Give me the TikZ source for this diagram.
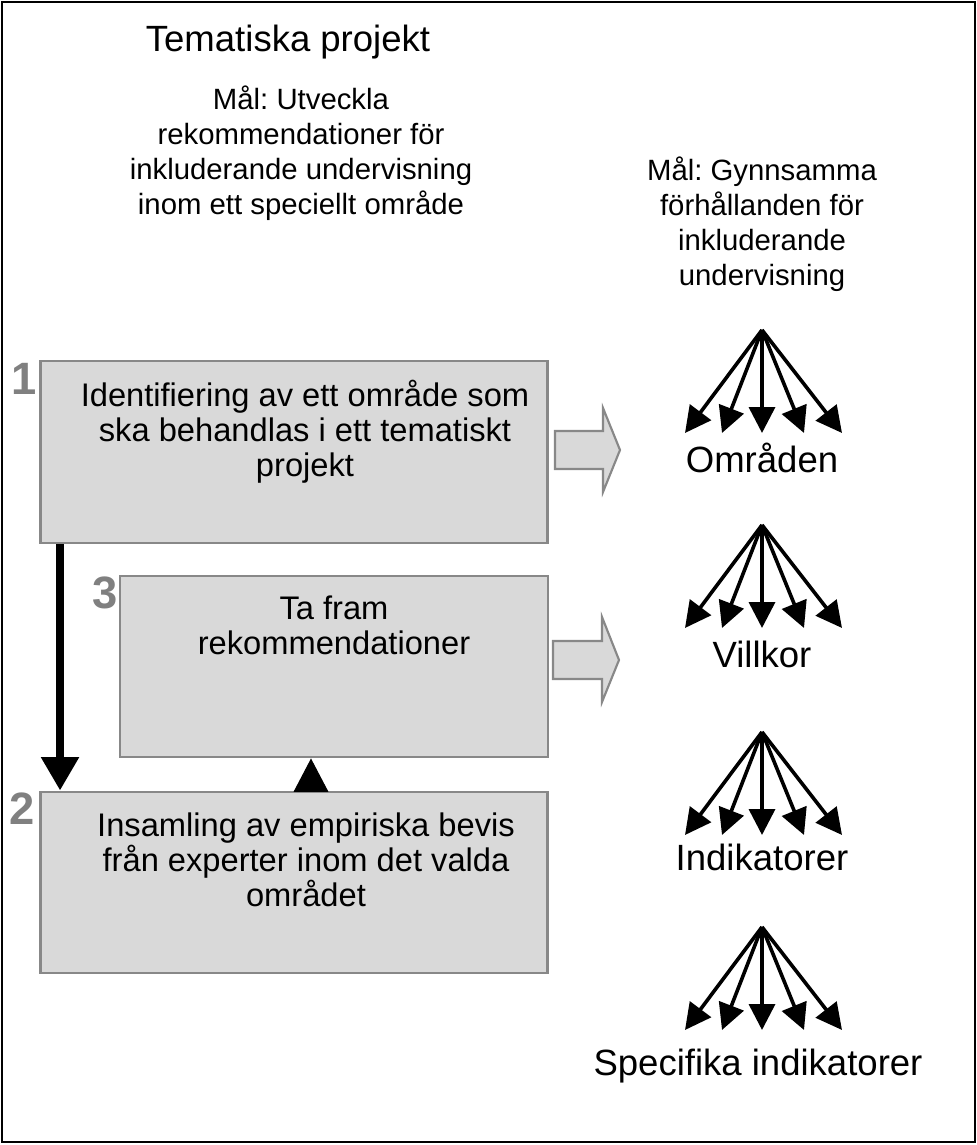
\documentclass[tikz,border=0pt]{standalone}
\usepackage{fontspec}
\setmainfont{Liberation Sans}
\usetikzlibrary{arrows.meta}
\definecolor{boxfill}{HTML}{D9D9D9}
\definecolor{boxline}{HTML}{888888}
\definecolor{numgray}{HTML}{808080}
\frenchspacing
\begin{document}
\begin{tikzpicture}[x=0.75pt,y=-0.75pt,
  stepbox/.style={draw=boxline, line width=2.2pt, fill=boxfill, rectangle, inner sep=0pt},
  blockarrow/.style={draw=boxline, line width=1.6pt, fill=boxfill},
  boxtext/.style={anchor=north, inner sep=0pt, align=center, font=\fontsize{24.5}{26.25}\selectfont},
  goaltext/.style={anchor=north, inner sep=0pt, align=center, font=\fontsize{22}{26.25}\selectfont},
  bigtext/.style={anchor=base, inner sep=0pt, font=\fontsize{27.4}{32}\selectfont},
  numtext/.style={anchor=north, inner sep=0pt, text=numgray, font=\fontsize{34}{40}\selectfont\bfseries},
  fanarrow/.style={line width=2.7pt, -{Triangle[length=19.5pt,width=19.5pt]}},
  mainarrow/.style={line width=6pt, -{Triangle[length=25pt,width=27pt]}},
  backarrow/.style={line width=0.8pt, -{Triangle[length=25pt,width=26pt]}}
]
\useasboundingbox (0,0) rectangle (977,1145);
\draw[line width=1.5pt] (2,2) rectangle (975,1142);

% title and goals
\node[bigtext] (title) at (288,52) {Tematiska projekt};
\node[goaltext] (goalL) at (301,86) {Mål: Utveckla\\rekommendationer för\\inkluderande undervisning\\inom ett speciellt område};
\node[goaltext] (goalR) at (762,157) {Mål: Gynnsamma\\förhållanden för\\inkluderande\\undervisning};

% boxes
\node[stepbox, minimum width=380.25pt, minimum height=136.5pt] (box1) at (294,452) {};
\node[stepbox, minimum width=321pt, minimum height=135.75pt] (box3) at (334,666.5) {};
\node[stepbox, minimum width=380.25pt, minimum height=135.75pt] (box2) at (294,882.5) {};

\node[boxtext] (t1) at (305,380) {Identifiering av ett område som\\ska behandlas i ett tematiskt\\projekt};
\node[boxtext] (t3) at (334,596) {Ta fram\\rekommendationer};
\node[boxtext] (t2) at (306,813) {Insamling av empiriska bevis\\från experter inom det valda\\området};

\node[numtext] (n1) at (24,363) {1};
\node[numtext] (n3) at (105,577) {3};
\node[numtext] (n2) at (22,793) {2};

% connectors between boxes
\draw[mainarrow] ([xshift=15.75pt]box1.south west) -- ([xshift=15.75pt]box2.north west);
\coordinate (tri) at (311,0);
\draw[backarrow] (box2.north -| tri) -- (box3.south -| tri);

% block arrows
\draw[blockarrow] (555,431) -- (603,431) -- (603,408) -- (620,450) -- (603,492) -- (603,469) -- (555,469) -- cycle;
\draw[blockarrow] (553,641) -- (602,641) -- (602,617) -- (619,660) -- (602,702) -- (602,679) -- (553,679) -- cycle;

% fans
\foreach \ay/\nm in {330/f1, 525/f2, 732/f3, 927/f4}{
  \coordinate (\nm) at (762,\ay);
  \foreach \dx in {-77,-40,0,42,80}{
    \draw[fanarrow] (\nm) -- ++(\dx,103);
  }
}
\node[bigtext] (l1) at (762,472) {Områden};
\node[bigtext] (l2) at (762,667) {Villkor};
\node[bigtext] (l3) at (762,870) {Indikatorer};
\node[bigtext] (l4) at (758,1075) {Specifika indikatorer};
\end{tikzpicture}
\end{document}
